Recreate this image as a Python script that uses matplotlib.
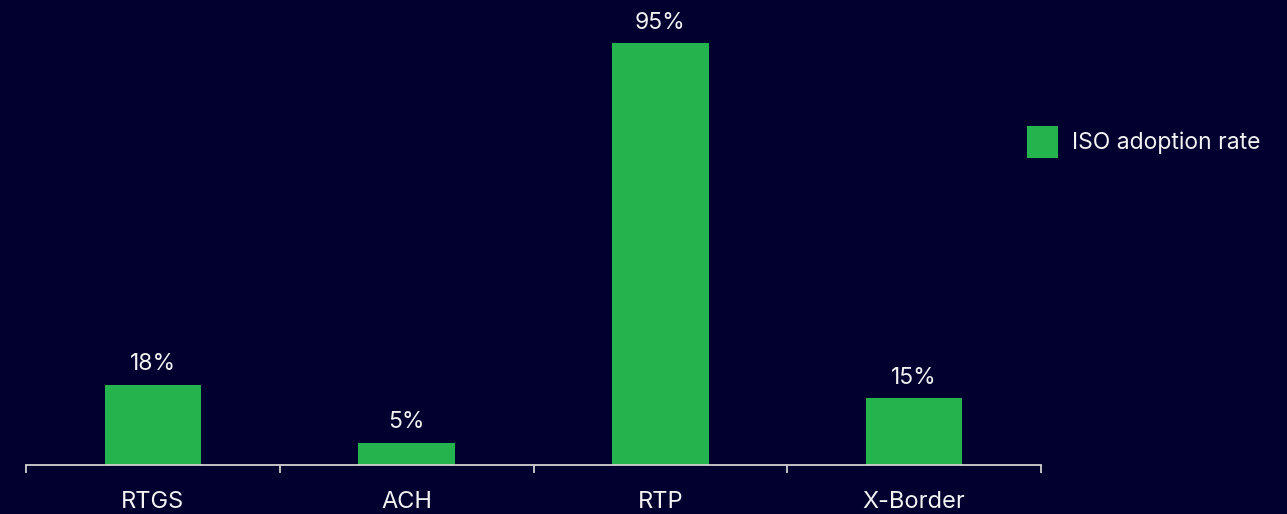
import matplotlib
matplotlib.use('Agg')
import matplotlib.pyplot as plt
import numpy as np

plt.rcParams['font.family'] = ['Inter', 'DejaVu Sans']

# 数据
categories = ['RTGS', 'ACH', 'RTP', 'X-Border']
adoption = [18, 5, 95, 15]
series_name = 'ISO adoption rate'

bg = '#01002F'
green = '#25B34E'
axis_col = '#D0D0D0'
text_col = '#F2F2F2'

fig = plt.figure(figsize=(12.87, 5.14), dpi=100, facecolor=bg)
ax = fig.add_axes([0.0202, 0.0953, 0.7887, 0.8638])
ax.set_facecolor(bg)

x = np.arange(len(categories))
bars = ax.bar(x, adoption, width=0.38, color=green, label=series_name, zorder=2)

# 柱顶标注
ax.bar_label(bars, labels=[f'{v}%' for v in adoption], padding=7,
             color=text_col, fontsize=16.5)

ax.set_xlim(-0.5, len(categories) - 0.5)
ax.set_ylim(0, 100)

# 坐标轴样式
for side in ['top', 'right', 'left']:
    ax.spines[side].set_visible(False)
ax.spines['bottom'].set_color(axis_col)
ax.spines['bottom'].set_linewidth(1.3)
ax.set_yticks([])

ax.set_xticks(x)
ax.set_xticklabels(categories, color=text_col, fontsize=17)
ax.tick_params(axis='x', which='major', length=0, pad=19)
ax.set_xticks(np.arange(-0.5, len(categories)), minor=True)
ax.tick_params(axis='x', which='minor', length=6, width=1.3, color=axis_col, direction='out')

# 图例
leg = fig.legend(loc='center left', bbox_to_anchor=(0.782, 0.724), frameon=False,
                 fontsize=16.5, handlelength=1.35, handleheight=1.75, handletextpad=0.6,
                 labelcolor=text_col)

fig.savefig('out.png', dpi=100, facecolor=bg)
